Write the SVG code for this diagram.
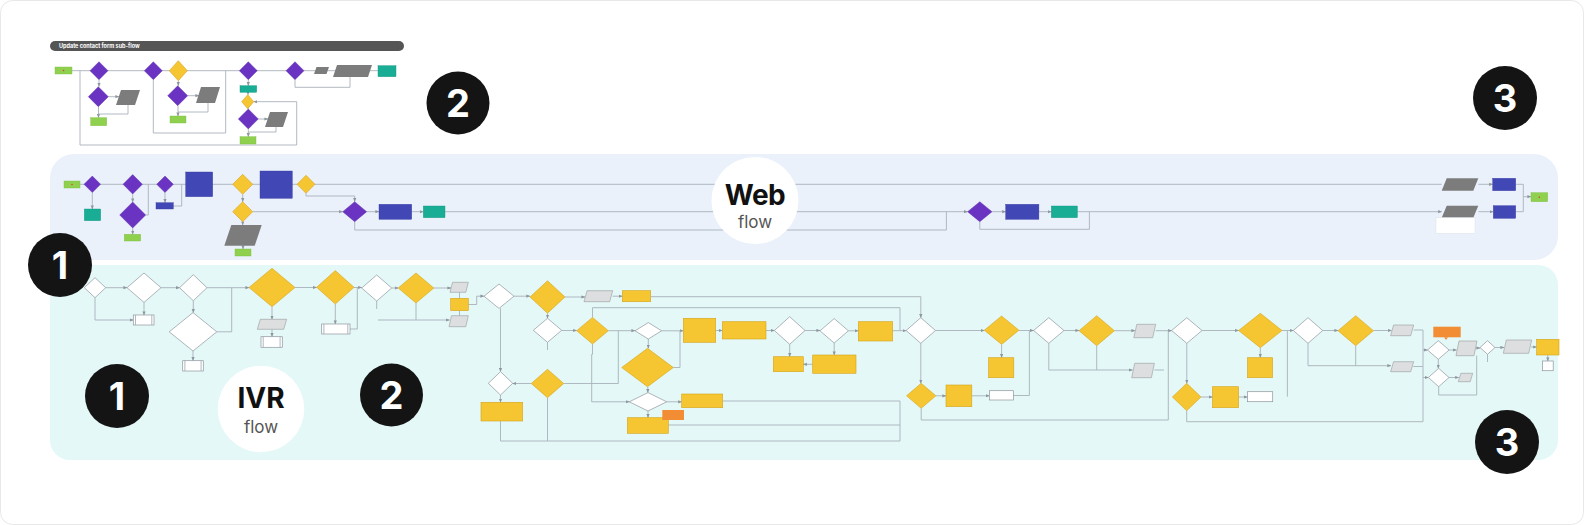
<svg xmlns="http://www.w3.org/2000/svg" width="1584" height="525" viewBox="0 0 1584 525">
<defs>
<marker id="a" markerWidth="4" markerHeight="4" refX="3.6" refY="2" orient="auto" markerUnits="userSpaceOnUse"><path d="M0,0.4 L4,2 L0,3.6z" fill="#8e969e"/></marker>
<style>
.c{fill:none;stroke:#a9b1ba;stroke-width:0.9}
.ca{fill:none;stroke:#a9b1ba;stroke-width:0.9;marker-end:url(#a)}
.pd{fill:#6a33c2;stroke:#5a28a8;stroke-width:0.4}
.yd{fill:#f6c532;stroke:#d6a51b;stroke-width:0.6}
.wd{fill:#fff;stroke:#8f959c;stroke-width:0.7}
.gp{fill:#7c7c7c}
.lp{fill:#dcdedf;stroke:#9a9a9a;stroke-width:0.6}
.gr{fill:#8fd14f;stroke:#7bbd3d;stroke-width:0.4}
.tl{fill:#19ad95;stroke:#11957f;stroke-width:0.4}
.bl{fill:#4148b5;stroke:#353ba0;stroke-width:0.4}
.yr{fill:#f6c532;stroke:#d4a41a;stroke-width:0.6}
.or{fill:#f28d35}
.wr{fill:#fff;stroke:#8f959c;stroke-width:0.7}
.dot{fill:#d8443a}
.num{fill:#141414}
.nt{font-family:Inter,"Liberation Sans",sans-serif;font-weight:700;font-size:38px;fill:#fff;text-anchor:middle}
.big{font-family:Inter,"Liberation Sans",sans-serif;font-weight:700;font-size:28px;fill:#111;text-anchor:middle}
.sub{font-family:Inter,"Liberation Sans",sans-serif;font-size:17px;fill:#555;text-anchor:middle}
</style>
</defs>
<rect x="0.5" y="0.5" width="1583" height="524" rx="12" fill="#fff" stroke="#e8e8e8"/>

<!-- panels -->
<rect id="web-panel" x="50" y="154" width="1508" height="106" rx="24" fill="#eaf1fb"/>
<rect id="ivr-panel" x="50" y="265" width="1508" height="195" rx="20" fill="#e3f8f7"/>

<!-- sub-flow header -->
<g id="subflow-header">
<rect x="50" y="41" width="354" height="10" rx="5" fill="#555"/>
<text x="59" y="48.3" font-family="Inter,'Liberation Sans',sans-serif" font-size="5.5" font-weight="700" fill="#fff">Update contact form sub-flow</text>
</g>

<!-- connectors -->
<g id="connectors">
<!-- subflow -->
<path class="c" d="M72,70.7 H378"/>
<path class="ca" d="M99,79.7 V86.5"/>
<path class="ca" d="M108.3,96.7 H119"/>
<path class="ca" d="M98.5,106.7 V117.7"/>
<path class="c" d="M128,105 V114 H98.5"/>
<path class="ca" d="M80,70.7 V145 H296.7 V101.7 H253.7"/>
<path class="c" d="M153.3,79.7 V133 H225.7 V70.7"/>
<path class="ca" d="M178.3,80.7 V85.7"/>
<path class="ca" d="M187.7,95.7 H199"/>
<path class="ca" d="M178,105.7 V116"/>
<path class="c" d="M208,103 V112 H178"/>
<path class="ca" d="M248.3,79.7 V85.7"/>
<path class="ca" d="M248,92.3 V94.7"/>
<path class="ca" d="M248,108.7 V109"/>
<path class="ca" d="M258.3,119 H268"/>
<path class="ca" d="M248.3,129 V136.7"/>
<path class="c" d="M276,127 V132 H248.3"/>
<path class="c" d="M295,79.7 V87.3 H350 V77"/>
<!-- web -->
<path class="c" d="M80,184.3 H1441.7"/>
<path class="ca" d="M92.3,192.6 V209"/>
<path class="ca" d="M132.7,194 V202"/>
<path class="ca" d="M132.7,228 V234.3"/>
<path class="c" d="M145.7,215 H148.3 V184.3"/>
<path class="ca" d="M165,192.6 V202.7"/>
<path class="c" d="M173.3,206 H181.7 V184.3"/>
<path class="ca" d="M242.7,194.3 V201.7"/>
<path class="ca" d="M242.7,221.7 V225"/>
<path class="ca" d="M243,245.7 V249"/>
<path class="ca" d="M252.7,211.7 H342.7"/>
<path class="ca" d="M306,193.3 V196 H354.7 V201.7"/>
<path class="ca" d="M366.7,211.7 H379"/>
<path class="ca" d="M411.7,211.7 H423.3"/>
<path class="ca" d="M445,211.7 H967.6"/>
<path class="c" d="M354.7,221.7 V230 H946.4 V211.7"/>
<path class="ca" d="M992,211.7 H1005.7"/>
<path class="ca" d="M1038.9,211.7 H1051.3"/>
<path class="ca" d="M1077.4,211.7 H1441.7"/>
<path class="c" d="M979.8,221.7 V229.3 H1089.4 V211.7"/>
<path class="ca" d="M1478.3,184.3 H1492.7"/>
<path class="ca" d="M1478.3,211.7 H1493.3"/>
<path class="c" d="M1515.7,184.3 H1523.3 V211.7 H1515.7"/>
<path class="ca" d="M1523.3,196.7 H1531"/>
<!-- ivr -->
<path class="ca" d="M105.7,287.7 H127"/>
<path class="ca" d="M161,287.7 H179.6"/>
<path class="ca" d="M207,287.7 H249"/>
<path class="c" d="M216.8,331.8 H231.7 V287.7"/>
<path class="ca" d="M95,297.7 V320 H133.3"/>
<path class="ca" d="M144,302.4 V315"/>
<path class="ca" d="M193.3,300.7 V312.6"/>
<path class="ca" d="M193,351 V360.7"/>
<path class="ca" d="M295,287.5 H316.6"/>
<path class="ca" d="M272,306.7 V319.3"/>
<path class="ca" d="M272,329.3 V336.7"/>
<path class="ca" d="M354,287.5 H361.7"/>
<path class="ca" d="M335.3,304 V324"/>
<path class="c" d="M350,329 H357.3 V287.7"/>
<path class="ca" d="M391.7,288 H398.2"/>
<path class="ca" d="M433.8,288 H451"/>
<path class="c" d="M416,303 V320"/>
<path class="c" d="M376.7,301 V309"/>
<path class="ca" d="M378,320 H449.5"/>
<path class="c" d="M459.5,292.3 V298.3"/>
<path class="c" d="M459.5,310.7 V315.7"/>
<path class="ca" d="M468.3,304.5 H476.7 V296.2 H484"/>
<path class="ca" d="M514,296.2 H530"/>
<path class="ca" d="M565,297 H585"/>
<path class="ca" d="M612.7,296.2 H622.3"/>
<path class="ca" d="M650.7,296.7 H920.8 V317.7"/>
<path class="ca" d="M547.5,313.2 V318.3"/>
<path class="ca" d="M561.7,330.5 H576.7"/>
<path class="c" d="M547.5,342.3 V350"/>
<path class="c" d="M592.5,317.4 V307.7 H900 V330.5"/>
<path class="ca" d="M608.3,330.7 H635"/>
<path class="ca" d="M661.6,330.8 H683.3"/>
<path class="ca" d="M715.7,330.5 H722.3"/>
<path class="ca" d="M766,330.5 H774.4"/>
<path class="ca" d="M805,330.5 H820"/>
<path class="ca" d="M848.4,330.8 H858.3"/>
<path class="ca" d="M892.7,330.7 H906.1"/>
<path class="ca" d="M789.7,344.3 V356.7"/>
<path class="ca" d="M834.2,343 V355"/>
<path class="ca" d="M812.7,364.3 H803.3"/>
<path class="ca" d="M648.3,339 V348.3"/>
<path class="c" d="M673.3,367.5 H680 V330.8"/>
<path class="ca" d="M647.8,386.7 V392.6"/>
<path class="ca" d="M500.5,308.4 V371.6"/>
<path class="ca" d="M500.5,395 V402.3"/>
<path class="ca" d="M531.3,383.5 H512.7"/>
<path class="c" d="M563.7,383.5 H618.3 V330.7"/>
<path class="c" d="M500.5,421 V441 H900 V401"/>
<path class="c" d="M547.5,397.7 V441"/>
<path class="ca" d="M592.5,344 V354.3 H591.7 V401.8 H629.3"/>
<path class="ca" d="M666.7,401.8 H681.7"/>
<path class="ca" d="M648,411 V417.7"/>
<path class="c" d="M722.7,401 H900"/>
<path class="c" d="M668.3,425 H900"/>
<path class="ca" d="M935.5,330.5 H984.3"/>
<path class="ca" d="M1018.9,330.5 H1033.6"/>
<path class="ca" d="M1064,330.5 H1079"/>
<path class="ca" d="M1114.4,330.7 H1135"/>
<path class="ca" d="M1155.7,330.7 H1171.6"/>
<path class="ca" d="M1001.6,344.4 V357.7"/>
<path class="ca" d="M1048.8,343.3 V370 H1132.5"/>
<path class="c" d="M1096.7,345.7 V370"/>
<path class="c" d="M1154.4,370 H1164"/>
<path class="ca" d="M920.8,343.3 V383.3"/>
<path class="ca" d="M935.9,395.8 H946"/>
<path class="ca" d="M971.8,395.8 H989.4"/>
<path class="c" d="M1013.4,395.5 H1029.4 V330.5"/>
<path class="c" d="M921.2,408.3 V420 H1168.3 V330.7"/>
<path class="ca" d="M1202,330.5 H1238.6"/>
<path class="ca" d="M1282,330.5 H1293.3"/>
<path class="c" d="M1287.4,330.5 V396.7"/>
<path class="ca" d="M1260.3,347.7 V357.7"/>
<path class="ca" d="M1322.7,330.5 H1338"/>
<path class="ca" d="M1373.4,330.5 H1391.5"/>
<path class="ca" d="M1308,343.3 V365.7 H1391"/>
<path class="c" d="M1355.7,345.7 V365.7"/>
<path class="ca" d="M1186.8,343.3 V383.3"/>
<path class="ca" d="M1201,397 H1212.5"/>
<path class="ca" d="M1238.6,397 H1247.5"/>
<path class="c" d="M1186.7,410.7 V421.7 H1423 V330"/>
<path class="c" d="M1413.7,330 H1423"/>
<path class="c" d="M1413.3,366.5 H1423"/>
<path class="ca" d="M1423,350 H1427.5"/>
<path class="ca" d="M1423,377.5 H1428.4"/>
<path class="ca" d="M1449.1,350 H1456.5"/>
<path class="ca" d="M1476,348 H1480"/>
<path class="ca" d="M1495,347.5 H1504"/>
<path class="ca" d="M1531,347 H1536.7"/>
<path class="ca" d="M1438.3,359.3 V368.3"/>
<path class="ca" d="M1449,377.5 H1458.8"/>
<path class="c" d="M1438.7,386.7 V395 H1476.7 V355.7"/>
<path class="ca" d="M1547.8,355 V361"/>
<path class="c" d="M1487.5,354.3 V362"/>
</g>

<!-- sub-flow nodes -->
<g id="sf-start"><rect class="gr" x="55" y="67" width="17" height="7"/><circle class="dot" cx="63.5" cy="70.5" r="0.8"/></g>
<g id="sf-d1"><polygon class="pd" points="90,70.7 99,61.7 108,70.7 99,79.7"/></g>
<g id="sf-d2"><polygon class="pd" points="88.3,96.7 98.3,86.7 108.3,96.7 98.3,106.7"/></g>
<g id="sf-p1"><polygon class="gp" points="121,90 140,90 135,105 116,105"/></g>
<g id="sf-e1"><rect class="gr" x="90.7" y="117.7" width="16" height="8"/></g>
<g id="sf-d3"><polygon class="pd" points="144.3,70.7 153.3,61.7 162.3,70.7 153.3,79.7"/></g>
<g id="sf-y1"><polygon class="yd" points="169.3,70.7 178.3,60.7 187.3,70.7 178.3,80.7"/></g>
<g id="sf-d4"><polygon class="pd" points="167.7,95.7 177.7,85.7 187.7,95.7 177.7,105.7"/></g>
<g id="sf-p2"><polygon class="gp" points="201,87 220,87 215,103 196,103"/></g>
<g id="sf-e2"><rect class="gr" x="170" y="116" width="16" height="7"/></g>
<g id="sf-d5"><polygon class="pd" points="239.3,70.7 248.3,61.7 257.3,70.7 248.3,79.7"/></g>
<g id="sf-t1"><rect class="tl" x="240" y="85.7" width="16.7" height="6.6"/></g>
<g id="sf-y2"><polygon class="yd" points="241.7,101.7 247.7,94.7 253.7,101.7 247.7,108.7"/></g>
<g id="sf-d6"><polygon class="pd" points="238.3,119 248.3,109 258.3,119 248.3,129"/></g>
<g id="sf-p3"><polygon class="gp" points="270,112 288,112 283,127 265,127"/></g>
<g id="sf-e3"><rect class="gr" x="240" y="136.7" width="16" height="7.3"/></g>
<g id="sf-d7"><polygon class="pd" points="286,70.7 295,61.7 304,70.7 295,79.7"/></g>
<g id="sf-p4"><polygon class="gp" points="316.5,67 329,67 326.5,74 314,74"/></g>
<g id="sf-p5"><polygon class="gp" points="337,65 372,65 368,77 333,77"/></g>
<g id="sf-t2"><rect class="tl" x="378" y="65.7" width="18" height="11"/></g>

<!-- web nodes -->
<g id="w-start"><rect class="gr" x="64" y="181" width="16" height="7"/><circle class="dot" cx="72" cy="184.5" r="0.8"/></g>
<g id="w-a"><polygon class="pd" points="84,184.3 92.3,176 100.6,184.3 92.3,192.6"/></g>
<g id="w-t1"><rect class="tl" x="84.3" y="209" width="16.4" height="11.7"/></g>
<g id="w-b"><polygon class="pd" points="123,184.3 132.7,174.6 142.4,184.3 132.7,194"/></g>
<g id="w-c"><polygon class="pd" points="119.7,215 132.7,202 145.7,215 132.7,228"/></g>
<g id="w-e1"><rect class="gr" x="124.3" y="234.3" width="16.4" height="6.7"/></g>
<g id="w-d"><polygon class="pd" points="156.7,184.3 165,176 173.3,184.3 165,192.6"/></g>
<g id="w-b1"><rect class="bl" x="156" y="202.7" width="17.3" height="6.3"/></g>
<g id="w-b2"><rect class="bl" x="185.7" y="172" width="27" height="24.7"/></g>
<g id="w-e"><polygon class="yd" points="232.7,184.3 242.7,174.3 252.7,184.3 242.7,194.3"/></g>
<g id="w-f"><polygon class="yd" points="232.7,211.7 242.7,201.7 252.7,211.7 242.7,221.7"/></g>
<g id="w-p1"><polygon class="gp" points="231.3,225 261.7,225 254.7,245.7 224.3,245.7"/></g>
<g id="w-e2"><rect class="gr" x="235" y="249" width="16" height="7"/></g>
<g id="w-b3"><rect class="bl" x="260" y="171" width="32.3" height="27.3"/></g>
<g id="w-g"><polygon class="yd" points="297,184.3 306,175.3 315,184.3 306,193.3"/></g>
<g id="w-h"><polygon class="pd" points="342.7,211.7 354.7,201.7 366.7,211.7 354.7,221.7"/></g>
<g id="w-b4"><rect class="bl" x="379" y="204.3" width="32.7" height="15"/></g>
<g id="w-t2"><rect class="tl" x="423.3" y="206" width="21.7" height="11.7"/></g>
<g id="w-i"><polygon class="pd" points="967.6,211.7 979.8,201.7 992,211.7 979.8,221.7"/></g>
<g id="w-b5"><rect class="bl" x="1005.7" y="204.3" width="33.2" height="15"/></g>
<g id="w-t3"><rect class="tl" x="1051.3" y="206" width="26.1" height="11.7"/></g>
<g id="w-p2"><polygon class="gp" points="1446.7,178.3 1478.3,178.3 1473.3,190.7 1441.7,190.7"/></g>
<g id="w-p3"><polygon class="gp" points="1446.7,205.7 1478.3,205.7 1473.3,217.7 1441.7,217.7"/></g>
<g id="w-note"><rect x="1436" y="217.7" width="39" height="15.6" fill="#fff" stroke="#dde2e8" stroke-width="0.5"/></g>
<g id="w-b6"><rect class="bl" x="1492.7" y="178.3" width="23" height="12.4"/></g>
<g id="w-b7"><rect class="bl" x="1493.3" y="205.7" width="22.4" height="12.6"/></g>
<g id="w-end"><rect class="gr" x="1531" y="192.7" width="16.7" height="9"/><circle class="dot" cx="1539.3" cy="197.2" r="0.8"/></g>

<!-- ivr nodes -->
<g id="i-d1"><polygon class="wd" points="84.3,287.7 95,277.7 105.7,287.7 95,297.7"/></g>
<g id="i-d2"><polygon class="wd" points="127,287.7 144,273 161,287.7 144,302.4"/></g>
<g id="i-box1"><rect class="wr" x="133.3" y="315" width="20.7" height="10"/><path class="c" d="M135.5,315 V325 M151.8,315 V325"/></g>
<g id="i-d3"><polygon class="wd" points="179.6,287.7 193.3,274.7 207,287.7 193.3,300.7"/></g>
<g id="i-d4"><polygon class="wd" points="169.2,331.8 193,312.6 216.8,331.8 193,351"/></g>
<g id="i-box2"><rect class="wr" x="182.7" y="360.7" width="20.6" height="10.3"/><path class="c" d="M184.9,360.7 V371 M201.1,360.7 V371"/></g>
<g id="i-y5"><polygon class="yd" points="249,287.5 272,268.3 295,287.5 272,306.7"/></g>
<g id="i-p1"><polygon class="lp" points="260.3,319.3 286.7,319.3 283.7,329.3 257.3,329.3"/></g>
<g id="i-box3"><rect class="wr" x="261" y="336.7" width="21.3" height="10.6"/><path class="c" d="M263.2,336.7 V347.3 M280.1,336.7 V347.3"/></g>
<g id="i-y6"><polygon class="yd" points="316.6,287.3 335.3,270.6 354,287.3 335.3,304"/></g>
<g id="i-box4"><rect class="wr" x="321.7" y="324" width="28.3" height="10"/><path class="c" d="M323.9,324 V334 M347.8,324 V334"/></g>
<g id="i-d7"><polygon class="wd" points="361.7,288 376.7,275 391.7,288 376.7,301"/></g>
<g id="i-y8"><polygon class="yd" points="398.2,288 416,273 433.8,288 416,303"/></g>
<g id="i-p2"><polygon class="lp" points="452.5,282.3 468.3,282.3 465.8,292.3 450,292.3"/></g>
<g id="i-r1"><rect class="yr" x="450.7" y="298.3" width="17.6" height="12.4"/></g>
<g id="i-p3"><polygon class="lp" points="451.5,315.7 468.3,315.7 465.8,326.7 449,326.7"/></g>
<g id="i-d9"><polygon class="wd" points="484,296.2 499,284 514,296.2 499,308.4"/></g>
<g id="i-y10"><polygon class="yd" points="530,297 547.5,280.8 565,297 547.5,313.2"/></g>
<g id="i-p4"><polygon class="lp" points="587,290.7 612.7,290.7 609.7,301.7 584,301.7"/></g>
<g id="i-r2"><rect class="yr" x="622.3" y="290.7" width="28.4" height="11"/></g>
<g id="i-d11"><polygon class="wd" points="533.3,330.3 547.5,318.3 561.7,330.3 547.5,342.3"/></g>
<g id="i-y12"><polygon class="yd" points="576.7,330.7 592.5,317.4 608.3,330.7 592.5,344"/></g>
<g id="i-d13"><polygon class="wd" points="635,330.8 648.3,322.6 661.6,330.8 648.3,339"/></g>
<g id="i-r14"><rect class="yr" x="683.3" y="318.3" width="32.4" height="24"/></g>
<g id="i-r15"><rect class="yr" x="722.3" y="321.7" width="43.7" height="17.3"/></g>
<g id="i-d16"><polygon class="wd" points="774.4,330.5 789.7,316.7 805,330.5 789.7,344.3"/></g>
<g id="i-d17"><polygon class="wd" points="820,330.8 834.2,318.6 848.4,330.8 834.2,343"/></g>
<g id="i-r18"><rect class="yr" x="858.3" y="321.7" width="34.4" height="19.3"/></g>
<g id="i-r19"><rect class="yr" x="773.3" y="356.7" width="30" height="15"/></g>
<g id="i-r20"><rect class="yr" x="812.7" y="355" width="43.3" height="18.3"/></g>
<g id="i-y21"><polygon class="yd" points="621.7,367.5 647.5,348.3 673.3,367.5 647.5,386.7"/></g>
<g id="i-d22"><polygon class="wd" points="488.3,383.3 500.5,371.6 512.7,383.3 500.5,395"/></g>
<g id="i-y23"><polygon class="yd" points="531.3,383.5 547.5,369.3 563.7,383.5 547.5,397.7"/></g>
<g id="i-r24"><rect class="yr" x="481" y="402.3" width="41.7" height="18.7"/></g>
<g id="i-d25"><polygon class="wd" points="629.3,401.8 648,392.6 666.7,401.8 648,411"/></g>
<g id="i-r26"><rect class="yr" x="681.7" y="394" width="41" height="13.7"/></g>
<g id="i-r27"><rect class="yr" x="627.3" y="417.7" width="41" height="15.6"/></g>
<g id="i-o1"><rect class="or" x="662.3" y="410" width="21.7" height="10"/></g>
<g id="i-a1"><polygon class="wd" points="906.1,330.5 920.8,317.7 935.5,330.5 920.8,343.3"/></g>
<g id="i-a2"><polygon class="yd" points="984.3,330.2 1001.6,316 1018.9,330.2 1001.6,344.4"/></g>
<g id="i-a3"><rect class="yr" x="988.6" y="357.7" width="25.2" height="20"/></g>
<g id="i-a4"><polygon class="wd" points="1033.6,330.5 1048.8,317.7 1064,330.5 1048.8,343.3"/></g>
<g id="i-a5"><polygon class="yd" points="1079,330.7 1096.7,315.7 1114.4,330.7 1096.7,345.7"/></g>
<g id="i-a6"><polygon class="lp" points="1136.8,324.3 1155.7,324.3 1152.7,337.7 1133.8,337.7"/></g>
<g id="i-a7"><polygon class="lp" points="1134.7,363.3 1154.4,363.3 1151.4,377.7 1131.7,377.7"/></g>
<g id="i-b1"><polygon class="yd" points="906.5,395.8 921.2,383.3 935.9,395.8 921.2,408.3"/></g>
<g id="i-b2"><rect class="yr" x="946" y="385" width="25.8" height="21.7"/></g>
<g id="i-b3"><rect class="wr" x="989.4" y="390.7" width="24" height="9.3"/></g>
<g id="i-c1"><polygon class="wd" points="1171.6,330.5 1186.8,317.7 1202,330.5 1186.8,343.3"/></g>
<g id="i-c2"><polygon class="yd" points="1238.6,330.5 1260.3,313.3 1282,330.5 1260.3,347.7"/></g>
<g id="i-c3"><rect class="yr" x="1247.5" y="357.7" width="25.2" height="20"/></g>
<g id="i-c4"><polygon class="wd" points="1293.3,330.5 1308,317.7 1322.7,330.5 1308,343.3"/></g>
<g id="i-c5"><polygon class="yd" points="1338,330.7 1355.7,315.7 1373.4,330.7 1355.7,345.7"/></g>
<g id="i-c6"><polygon class="lp" points="1393.6,325 1413.7,325 1410.7,335.7 1390.6,335.7"/></g>
<g id="i-c7"><polygon class="lp" points="1393.6,361.7 1413.7,361.7 1410.7,371.7 1390.6,371.7"/></g>
<g id="i-dd1"><polygon class="yd" points="1172.4,397 1186.7,383.3 1201,397 1186.7,410.7"/></g>
<g id="i-dd2"><rect class="yr" x="1212.5" y="386.7" width="26.1" height="21"/></g>
<g id="i-dd3"><rect class="wr" x="1247.5" y="391.7" width="25.2" height="10"/></g>
<g id="i-o2"><rect class="or" x="1433.3" y="326.7" width="27.4" height="10.6"/><polygon class="or" points="1444,337.2 1448,337.2 1446,340"/></g>
<g id="i-e1"><polygon class="wd" points="1427.5,350 1438.3,340.7 1449.1,350 1438.3,359.3"/></g>
<g id="i-e2"><polygon class="lp" points="1459,341 1477,341 1474,355.7 1456,355.7"/></g>
<g id="i-e3"><polygon class="wd" points="1480,347.5 1487.5,340.7 1495,347.5 1487.5,354.3"/></g>
<g id="i-e4"><polygon class="lp" points="1506.3,340 1531.7,340 1528.7,353.3 1503.3,353.3"/></g>
<g id="i-e5"><rect class="yr" x="1536.7" y="339.3" width="22.3" height="15.7"/></g>
<g id="i-e5b"><rect class="wr" x="1542.5" y="361" width="10.7" height="9.7"/></g>
<g id="i-e6"><polygon class="wd" points="1428.4,377.5 1438.7,368.3 1449,377.5 1438.7,386.7"/></g>
<g id="i-e7"><polygon class="lp" points="1460.8,373.3 1472.7,373.3 1470.2,381.7 1458.3,381.7"/></g>

<!-- labels -->
<g id="web-label"><circle cx="755" cy="200.5" r="43.5" fill="#fff"/><text class="big" x="755" y="204.5" letter-spacing="-0.5">Web</text><text class="sub" x="755" y="228">flow</text></g>
<g id="ivr-label"><circle cx="261" cy="409" r="43.3" fill="#fff"/><text class="big" x="261" y="407.5">IVR</text><text class="sub" x="261" y="432.5">flow</text></g>

<g id="badge-2-top"><circle class="num" cx="458" cy="103" r="31.5"/><text class="nt" x="458" y="117">2</text></g>
<g id="badge-3-top"><circle class="num" cx="1505" cy="98" r="32"/><text class="nt" x="1505" y="112">3</text></g>
<g id="badge-1-top"><circle class="num" cx="60" cy="265" r="32"/><text class="nt" x="60" y="279">1</text></g>
<g id="badge-1-low"><circle class="num" cx="117" cy="396" r="32"/><text class="nt" x="117" y="410">1</text></g>
<g id="badge-2-low"><circle class="num" cx="391.5" cy="395" r="31.5"/><text class="nt" x="391.5" y="409">2</text></g>
<g id="badge-3-low"><circle class="num" cx="1507" cy="442" r="32"/><text class="nt" x="1507" y="456">3</text></g>
</svg>
